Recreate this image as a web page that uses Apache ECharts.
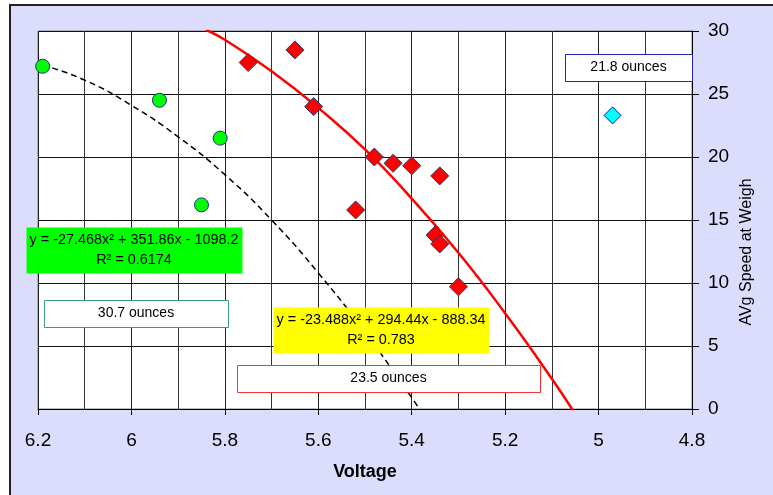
<!DOCTYPE html>
<html>
<head>
<meta charset="utf-8">
<script src="https://cdn.jsdelivr.net/npm/echarts@6/dist/echarts.min.js"></script>
<style>
html,body{margin:0;padding:0;background:#fff;}
#frame{position:absolute;left:9px;top:4px;width:780px;height:500px;background:#DCDCFC;border:2px solid #222;}
#chart{position:absolute;left:0;top:0;width:773px;height:495px;}
</style>
</head>
<body>
<div id="frame"></div>
<div id="chart"></div>
<script>
// Data
var greenVoltage = [6.19, 5.94, 5.81, 5.85];
var greenSpeed   = [27.2, 24.5, 21.5, 16.2];

var redVoltage = [5.75, 5.65, 5.61, 5.48, 5.44, 5.40, 5.34, 5.52, 5.35, 5.34, 5.30];
var redSpeed   = [27.5, 28.5, 24.0, 20.0, 19.5, 19.3, 18.5, 15.8, 13.8, 13.1, 9.7];

var cyanVoltage = [4.97];
var cyanSpeed   = [23.3];

// Trendline points
var redTrendVoltage = [5.84, 5.8, 5.7, 5.6, 5.5, 5.4, 5.3, 5.2, 5.1, 5.05];
var redTrendSpeed   = [30.1, 29.3, 26.8, 23.9, 20.6, 16.7, 12.4, 7.6, 2.4, -0.4];

var blackTrendVoltage = [6.19, 6.1, 6.0, 5.9, 5.8, 5.7, 5.6, 5.5, 5.4, 5.38];
var blackTrendSpeed   = [27.3, 26.1, 24.1, 21.6, 18.6, 15.0, 10.8, 6.1, 0.9, -0.2];

var xTicks = [4.8, 5, 5.2, 5.4, 5.6, 5.8, 6, 6.2];
var yTicks = [0, 5, 10, 15, 20, 25, 30];

var greenEq = 'y = -27.468x\u00B2 + 351.86x - 1098.2\nR\u00B2 = 0.6174';
var redEq = 'y = -23.488x\u00B2 + 294.44x - 888.34\nR\u00B2 = 0.783';
var labelGreen = '30.7 ounces';
var labelRed = '23.5 ounces';
var labelCyan = '21.8 ounces';

function zip(a, b) { return a.map(function (v, i) { return [v, b[i]]; }); }

var FF = '"Liberation Sans", Arial, sans-serif';

function box(x, y, w, h, fill, stroke, text, fontSize, lh) {
  return {
    type: 'group',
    z: 100,
    children: [
      { type: 'rect', shape: { x: x + 0.5, y: y + 0.5, width: w, height: h },
        style: { fill: fill, stroke: stroke || null, lineWidth: stroke ? 1 : 0 }, z: 100 },
      { type: 'text', z: 101,
        style: { text: text, x: x + w / 2, y: y + h / 2, fill: '#000',
          font: fontSize + 'px ' + FF, lineHeight: lh || fontSize + 4,
          align: 'center', verticalAlign: 'middle', textAlign: 'center', textVerticalAlign: 'middle' } }
    ]
  };
}

var chart = echarts.init(document.getElementById('chart'));
chart.setOption({
  animation: false,
  grid: { left: 38, top: 31, right: 81, bottom: 86, show: true, backgroundColor: '#fff', borderColor: '#808080', borderWidth: 1 },
  xAxis: {
    type: 'value', min: xTicks[0], max: xTicks[xTicks.length - 1], interval: 0.2, inverse: true, position: 'bottom',
    axisLine: { show: true, onZero: false, lineStyle: { color: '#000', width: 1 } },
    axisTick: { show: true, length: 6, lineStyle: { color: '#000' } },
    axisLabel: { fontSize: 19, margin: 22, color: '#000', fontFamily: FF },
    splitLine: { show: true, lineStyle: { color: '#222', width: 1 } },
    minorTick: { show: false, splitNumber: 2 },
    minorSplitLine: { show: true, lineStyle: { color: '#333', width: 1 } },
    name: 'Voltage', nameLocation: 'middle', nameGap: 54,
    nameTextStyle: { fontSize: 18, fontWeight: 'bold', color: '#000', fontFamily: FF }
  },
  yAxis: {
    type: 'value', min: yTicks[0], max: yTicks[yTicks.length - 1], interval: 5, position: 'right',
    axisLine: { show: true, lineStyle: { color: '#000', width: 1 } },
    axisTick: { show: true, length: 7, lineStyle: { color: '#000' } },
    axisLabel: { fontSize: 19, margin: 16, color: '#000', fontFamily: FF },
    splitLine: { show: true, lineStyle: { color: '#111', width: 1 } }
  },
  series: [
    { type: 'line', data: zip(blackTrendVoltage, blackTrendSpeed), smooth: true, symbol: 'none', clip: true,
      lineStyle: { color: '#000', width: 1.5, type: [6, 4] }, z: 3 },
    { type: 'line', data: zip(redTrendVoltage, redTrendSpeed), smooth: true, symbol: 'none', clip: true,
      lineStyle: { color: '#FF0000', width: 2.5 }, z: 3 },
    { type: 'scatter', data: zip(greenVoltage, greenSpeed), symbol: 'circle', symbolSize: 14,
      itemStyle: { color: '#00FF00', borderColor: '#1F2F8F', borderWidth: 1, opacity: 1 }, z: 5 },
    { type: 'scatter', data: zip(redVoltage, redSpeed), symbol: 'diamond', symbolSize: 18,
      itemStyle: { color: '#FF0000', borderColor: '#1F3A6A', borderWidth: 1, opacity: 1 }, z: 5 },
    { type: 'scatter', data: zip(cyanVoltage, cyanSpeed), symbol: 'diamond', symbolSize: 17,
      itemStyle: { color: '#00FFFF', borderColor: '#10109F', borderWidth: 1, opacity: 1 }, z: 5 }
  ],
  graphic: [
    box(26, 227, 216, 46, '#00FF00', null, greenEq, 14.4, 20),
    box(273, 307, 216, 46, '#FFFF00', null, redEq, 14.4, 20),
    box(44, 300, 184, 27, '#FFFFFF', '#3C9A7C', labelGreen, 14),
    box(237, 365, 303, 27, '#FFFFFF', '#FF3030', labelRed, 14),
    box(565, 54, 127, 27, '#FFFFFF', '#2020CC', labelCyan, 14),
    { type: 'text', x: 747, y: 252, rotation: Math.PI / 2, z: 100,
      style: { text: 'AVg Speed at Weigh', x: 0, y: 0, fill: '#000', font: '16px ' + FF,
        align: 'center', verticalAlign: 'middle', textAlign: 'center', textVerticalAlign: 'middle' } }
  ]
});
</script>
</body>
</html>
